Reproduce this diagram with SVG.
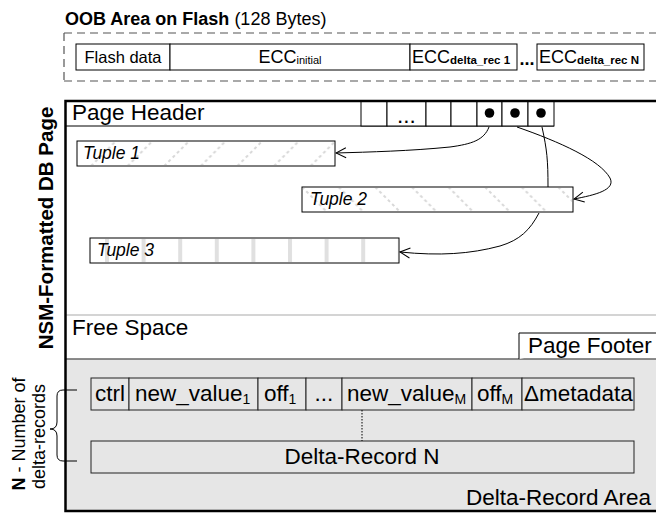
<svg xmlns="http://www.w3.org/2000/svg" width="656" height="513" viewBox="0 0 656 513">
<style>
text{font-family:"Liberation Sans",Arial,sans-serif;fill:#000}
.big{font-size:22.5px}
.oob{font-size:18px}
.tup{font-size:17.5px;font-style:italic}
.cell{fill:#fff;stroke:#000;stroke-width:1}
.gcell{fill:#e6e6e6;stroke:#222;stroke-width:1}
.conn{fill:none;stroke:#000;stroke-width:1}
</style>
<defs>
<marker id="arr" viewBox="0 0 12 12" refX="11" refY="6" markerWidth="12" markerHeight="12" markerUnits="userSpaceOnUse" orient="auto">
<path d="M1,1 L11,6 L1,11" fill="none" stroke="#000" stroke-width="1"/>
</marker>
<pattern id="hatch1" patternUnits="userSpaceOnUse" x="77" y="141" width="36.6" height="25">
<path d="M14,25 L39,0 M-22.6,25 L2.4,0" stroke="#d8d8d8" stroke-width="2" stroke-dasharray="3,3"/>
</pattern>
<pattern id="hatch2" patternUnits="userSpaceOnUse" x="302" y="187" width="36.6" height="25">
<path d="M0,0 L25,25 M36.6,0 L61.6,25 M-36.6,0 L-11.6,25" stroke="#d8d8d8" stroke-width="2" stroke-dasharray="3,3"/>
</pattern>
<pattern id="vstripe" patternUnits="userSpaceOnUse" x="105" y="238" width="36.6" height="25">
<rect x="0" y="0" width="4" height="25" fill="#e0e0e0"/>
</pattern>
</defs>

<g id="oob-title">
<text x="65" y="25" style="font-size:18px"><tspan font-weight="bold">OOB Area on Flash</tspan> (128 Bytes)</text>
</g>

<g id="oob-area">
<path d="M64,33 H656 M64,81 H656 M64,33 V81" fill="none" stroke="#555" stroke-width="1.2" stroke-dasharray="8,5"/>
</g>

<g id="oob-flash-data">
<rect class="cell" x="76" y="44" width="94" height="26"/>
<text x="123" y="63" text-anchor="middle" style="font-size:16.5px">Flash data</text>
</g>
<g id="oob-ecc-initial">
<rect class="cell" x="170" y="44" width="240" height="26"/>
<text class="oob" x="290" y="63" text-anchor="middle">ECC<tspan font-size="11" dy="1">initial</tspan></text>
</g>
<g id="oob-ecc-rec1">
<rect class="cell" x="410" y="44" width="107" height="26"/>
<text class="oob" x="412" y="63">ECC<tspan font-size="11.5" font-weight="bold" dy="1">delta_rec 1</tspan></text>
</g>
<g id="oob-dots">
<text class="oob" x="527" y="65" text-anchor="middle" font-weight="bold">...</text>
</g>
<g id="oob-ecc-recN">
<rect class="cell" x="537" y="44" width="107" height="26"/>
<text class="oob" x="539" y="63">ECC<tspan font-size="11.5" font-weight="bold" dy="1">delta_rec N</tspan></text>
</g>

<g id="page-label">
<text transform="translate(53,228) rotate(-90)" text-anchor="middle" font-weight="bold" style="font-size:20.5px">NSM-Formatted DB Page</text>
</g>

<g id="page">
<rect x="65" y="101" width="600" height="410" fill="#fff"/>
<line x1="65" y1="315" x2="656" y2="315" stroke="#d4d4d4" stroke-width="2"/>
</g>

<g id="delta-area">
<rect x="65" y="359" width="600" height="152" fill="#e6e6e6"/>
<line x1="65" y1="359" x2="656" y2="359" stroke="#666" stroke-width="1.5"/>
<text class="big" x="651" y="505" text-anchor="end">Delta-Record Area</text>
</g>

<g id="page-header">
<line x1="65" y1="126" x2="554" y2="126" stroke="#000" stroke-width="1"/>
<text class="big" x="72" y="120">Page Header</text>
<rect class="cell" x="361" y="101" width="26" height="25"/>
<rect class="cell" x="387" y="101" width="39" height="25"/>
<rect class="cell" x="426" y="101" width="25" height="25"/>
<rect class="cell" x="451" y="101" width="26" height="25"/>
<rect class="cell" x="477" y="101" width="25" height="25"/>
<rect class="cell" x="502" y="101" width="26" height="25"/>
<rect class="cell" x="528" y="101" width="26" height="25"/>
<text class="big" x="406.5" y="123" text-anchor="middle">...</text>
<circle cx="489.5" cy="113" r="4.8"/>
<circle cx="515" cy="113" r="4.8"/>
<circle cx="541" cy="113" r="4.8"/>
</g>

<g id="tuple1">
<rect x="77" y="141" width="258" height="25" fill="#fff" stroke="#000"/>
<rect x="78" y="142" width="256" height="23" fill="url(#hatch1)"/>
<text class="tup" x="83" y="159">Tuple 1</text>
</g>
<g id="tuple2">
<rect x="302" y="187" width="271" height="25" fill="#fff" stroke="#000"/>
<rect x="303" y="188" width="269" height="23" fill="url(#hatch2)"/>
<text class="tup" x="310" y="205">Tuple 2</text>
</g>
<g id="tuple3">
<rect x="90" y="238" width="309" height="25" fill="#fff" stroke="#000"/>
<rect x="91" y="239" width="307" height="23" fill="url(#vstripe)"/>
<text class="tup" x="97" y="256">Tuple 3</text>
</g>

<g id="free-space">
<text class="big" x="72" y="335">Free Space</text>
</g>

<g id="page-footer">
<path d="M656,333 H519 V359" fill="#fff" stroke="#000" stroke-width="1"/>
<text class="big" x="528" y="353">Page Footer</text>
</g>

<g id="page-border">
<path d="M656,101 H65.5 V511 H656" fill="none" stroke="#000" stroke-width="2.5"/>
</g>

<g id="delta-record-1">
<rect class="gcell" x="91" y="378" width="38" height="32"/>
<rect class="gcell" x="129" y="378" width="129" height="32"/>
<rect class="gcell" x="258" y="378" width="48" height="32"/>
<rect class="gcell" x="306" y="378" width="36" height="32"/>
<rect class="gcell" x="342" y="378" width="130" height="32"/>
<rect class="gcell" x="472" y="378" width="50" height="32"/>
<rect class="gcell" x="522" y="378" width="112" height="32"/>
<text class="big" x="95" y="401">ctrl</text>
<text class="big" x="135" y="401">new_value<tspan font-size="14" dy="3">1</tspan></text>
<text class="big" x="264" y="401">off<tspan font-size="14" dy="3">1</tspan></text>
<text class="big" x="324" y="401" text-anchor="middle">...</text>
<text class="big" x="347" y="401">new_value<tspan font-size="14" dy="3">M</tspan></text>
<text class="big" x="477" y="401">off<tspan font-size="14" dy="3">M</tspan></text>
<text class="big" x="524" y="401">Δmetadata</text>
</g>

<g id="delta-record-N">
<rect class="gcell" x="91" y="441" width="543" height="32"/>
<text class="big" x="362" y="464" text-anchor="middle">Delta-Record N</text>
</g>

<g id="n-label">
<text transform="translate(25,434) rotate(-90)" text-anchor="middle" style="font-size:18px"><tspan font-weight="bold">N</tspan> - Number of</text>
<text transform="translate(45,436.5) rotate(-90)" text-anchor="middle" style="font-size:18px">delta-records</text>
<path class="conn" d="M77,390 H63 Q57,390 57,396 V422 Q57,429 50,429 Q57,429 57,436 V455 Q57,461 63,461 H77"/>
</g>

<g id="connectors">
<path class="conn" d="M489,127 C484,140 472,144 450,147 C410,151 370,152 336,153" marker-end="url(#arr)"/>
<path class="conn" d="M517,127 C560,142 600,160 610,178 C616,190 595,195 574,199" marker-end="url(#arr)"/>
<path class="conn" d="M542,127 C547,150 548,160 548,187"/>
<path class="conn" d="M539,213 C530,230 520,240 500,246 C470,254 440,256 400,252" marker-end="url(#arr)"/>
<line x1="362" y1="410" x2="362" y2="441" stroke="#000" stroke-width="1" stroke-dasharray="1.5,1.5"/>
</g>
</svg>
